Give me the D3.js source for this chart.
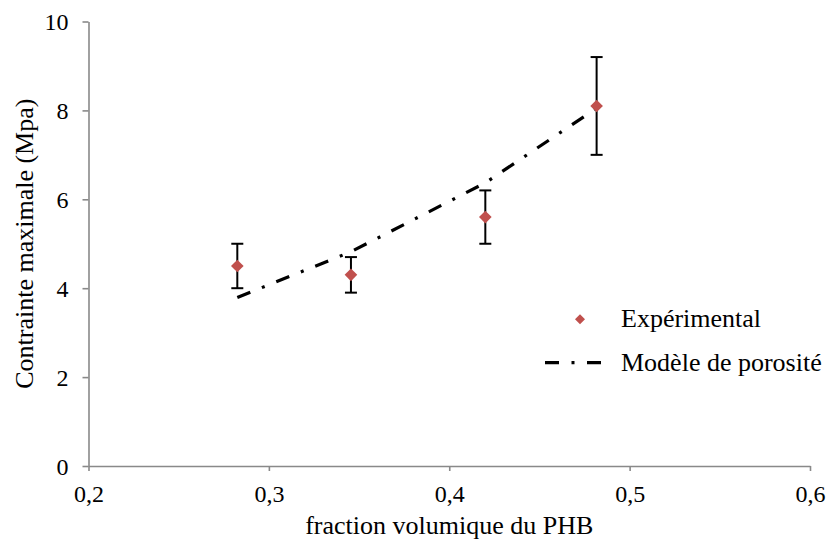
<!DOCTYPE html>
<html><head><meta charset="utf-8">
<script src="https://cdn.jsdelivr.net/npm/d3@7"></script>
<style>body{margin:0;background:#fff}svg{display:block}svg text{font-family:"Liberation Serif","Times New Roman",serif !important;fill:#000}</style>
</head><body>
<svg id="c" width="828" height="543"></svg>
<script>
const xTicks = [0.2, 0.3, 0.4, 0.5, 0.6];
const yTicks = [0, 2, 4, 6, 8, 10];
const fractions = [0.2825, 0.3455, 0.420, 0.4817];
const experimental = [4.5, 4.3, 5.6, 8.1];
const errors = [0.5, 0.4, 0.6, 1.1];
const model = [3.79, 4.82, 6.37, 8.05];
const seriesNames = ["Expérimental", "Modèle de porosité"];
const xTitle = "fraction volumique du PHB";
const yTitle = "Contrainte maximale (Mpa)";

const svg = d3.select("#c");
const x = d3.scaleLinear().domain([0.2, 0.6]).range([88.5, 810]);
const y = d3.scaleLinear().domain([0, 10]).range([466, 21.5]);
const fmt = d => d3.format(".1f")(d).replace(".", ",");
const axisCol = "#898989";

const gx = svg.append("g").attr("transform", "translate(0,466)")
  .call(d3.axisBottom(x).tickValues(xTicks).tickSize(5).tickSizeOuter(0).tickFormat(fmt));
const gy = svg.append("g").attr("transform", "translate(88.5,0)")
  .call(d3.axisLeft(y).tickValues(yTicks).tickSize(6).tickSizeOuter(0).tickFormat(d3.format("d")));
[gx, gy].forEach(g => {
  g.attr("font-family", "Liberation Serif").style("font-family", "'Liberation Serif', serif");
  g.select(".domain").attr("stroke", axisCol).attr("stroke-width", 1.6);
  g.selectAll(".tick line").attr("stroke", axisCol).attr("stroke-width", 1.6);
  g.selectAll(".tick text").attr("font-size", 24).style("font-family", "'Liberation Serif', serif").attr("fill", "#000");
});
gx.selectAll(".tick text").attr("dy", null).attr("y", 35.5);
gy.selectAll(".tick text").attr("x", -20).attr("dy", "0.34em");

// Model line
const pts = fractions.map((f, i) => [f, model[i]]);
const dash = "14,12.5,3,12.5";
svg.append("path").datum(pts)
  .attr("d", d3.line().x(d => x(d[0])).y(d => y(d[1])))
  .attr("fill", "none").attr("stroke", "#000").attr("stroke-width", 3.2)
  .attr("stroke-dasharray", dash);

// Error bars
const eb = svg.append("g").attr("stroke", "#000").attr("stroke-width", 2);
fractions.forEach((f, i) => {
  const cx = x(f), t = y(experimental[i] + errors[i]), b = y(experimental[i] - errors[i]);
  eb.append("line").attr("x1", cx).attr("x2", cx).attr("y1", t).attr("y2", b);
  eb.append("line").attr("x1", cx - 6).attr("x2", cx + 6).attr("y1", t).attr("y2", t);
  eb.append("line").attr("x1", cx - 6).attr("x2", cx + 6).attr("y1", b).attr("y2", b);
});

// Diamonds
const diamond = r => `M0,${-r}L${r},0L0,${r}L${-r},0Z`;
svg.append("g").selectAll("path").data(fractions).join("path")
  .attr("d", diamond(6.3))
  .attr("transform", (d, i) => `translate(${x(d)},${y(experimental[i])})`)
  .attr("fill", "#C0504D");

// Axis titles
svg.append("text").attr("x", 449.25).attr("y", 534).attr("text-anchor", "middle")
  .attr("font-size", 26).text(xTitle);
svg.append("text").attr("transform", "translate(33,243.7) rotate(-90)").attr("text-anchor", "middle")
  .attr("font-size", 26).text(yTitle);

// Legend
const lg = svg.append("g");
lg.append("path").attr("d", diamond(5)).attr("transform", "translate(580,319.3)").attr("fill", "#C0504D");
lg.append("text").attr("x", 621).attr("y", 327.3).attr("font-size", 26).text(seriesNames[0]);
lg.append("line").attr("x1", 545).attr("x2", 602).attr("y1", 362.7).attr("y2", 362.7)
  .attr("stroke", "#000").attr("stroke-width", 3.2).attr("stroke-dasharray", dash);
lg.append("text").attr("x", 621).attr("y", 371).attr("font-size", 26).text(seriesNames[1]);
</script>
</body></html>
